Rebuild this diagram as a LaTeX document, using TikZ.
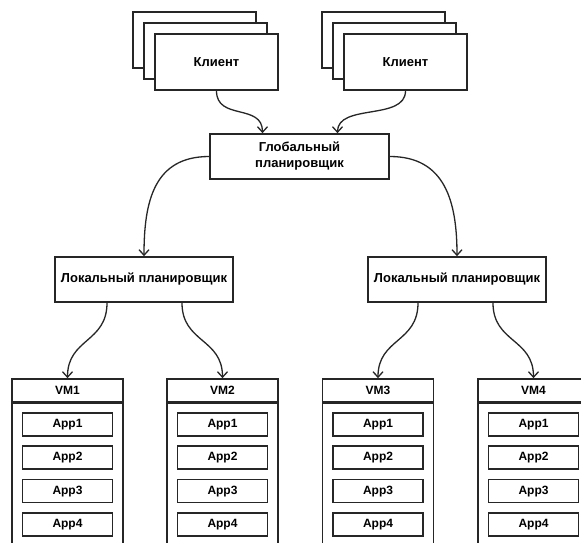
\documentclass[tikz,border=0pt]{standalone}
\usepackage{fontspec}
\setmainfont{Liberation Sans}
\usetikzlibrary{arrows.meta}
\begin{document}
\begin{tikzpicture}[x=1pt,y=-1pt,
  box/.style={draw=black!85, line width=1.7pt, fill=white, inner sep=0pt,
    font=\bfseries\fontsize{12}{14}\selectfont, align=center},
  bigtext/.style={font=\bfseries\fontsize{13}{16}\selectfont},
  client/.style={box, bigtext, minimum width=123pt, minimum height=56pt},
  sched/.style={box, bigtext, minimum width=178pt, minimum height=45pt},
  vmhead/.style={box, minimum width=111pt, minimum height=23pt},
  vmbody/.style={box, minimum width=111pt, minimum height=200pt, anchor=north},
  app/.style={box, minimum width=90pt, minimum height=23pt},
  link/.style={draw=black!85, line width=1.3pt,
    -{Straight Barb[length=5.5pt,width=10pt,line width=1.3pt]}}
]
\useasboundingbox (0,0) rectangle (581,542);
\fill[white] (0,0) rectangle (581,542);
\begin{scope}
\clip (0,0) rectangle (581,542);

% clients
\node[client] (c1b) at (194.5,40) {};
\node[client] (c1m) at (205.5,51) {};
\node[client] (c1) at (216.5,62) {Клиент};
\node[client] (c2b) at (383.5,40) {};
\node[client] (c2m) at (394.5,51) {};
\node[client] (c2) at (405.5,62) {Клиент};

% global scheduler
\node[sched, minimum width=179pt] (g) at (299.5,156.5) {Глобальный\\планировщик};

% local schedulers
\node[sched] (l1) at (144,279.5) {Локальный планировщик};
\node[sched] (l2) at (457,279.5) {Локальный планировщик};

% VMs
\foreach \i/\x in {1/67.5,2/222.5,3/378,4/533.5}{
  \node[vmbody] (vm\i b) at (\x,402) {};
  \node[vmhead] (vm\i) at (\x,390.5) {VM\i};
  \foreach \j in {1,2,3,4}{
    \node[app] (vm\i a\j) at (\x,{424.5+33.3*(\j-1)}) {App\j};
  }
}

% connectors
\draw[link] (c1.south) .. controls +(0,30) and +(0,-30) .. ([xshift=-37pt]g.north);
\draw[link] (c2.south) .. controls +(0,30) and +(0,-30) .. ([xshift=38pt]g.north);
\draw[link] (g.west) .. controls +(-55,0) and +(0,-55) .. (l1.north);
\draw[link] (g.east) .. controls +(55,0) and +(0,-55) .. (l2.north);
\draw[link] ([xshift=-37pt]l1.south) .. controls +(0,40) and +(0,-40) .. (vm1.north);
\draw[link] ([xshift=38pt]l1.south) .. controls +(0,40) and +(0,-40) .. (vm2.north);
\draw[link] ([xshift=-39pt]l2.south) .. controls +(0,40) and +(0,-40) .. (vm3.north);
\draw[link] ([xshift=36pt]l2.south) .. controls +(0,40) and +(0,-40) .. (vm4.north);
\end{scope}
\end{tikzpicture}
\end{document}
